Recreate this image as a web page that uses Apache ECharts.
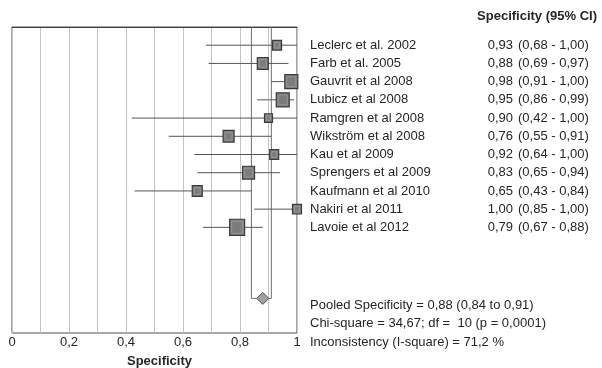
<!DOCTYPE html>
<html>
<head>
<meta charset="utf-8">
<script src="https://cdn.jsdelivr.net/npm/echarts@6/dist/echarts.min.js"></script>
<style>
  html, body { margin: 0; padding: 0; background: #fff; }
  #chart { width: 602px; height: 368px; }
</style>
</head>
<body>
<div id="chart"></div>
<script>
// Forest plot of per-study specificity with 95% confidence intervals
const studies = [
  'Leclerc et al. 2002', 'Farb et al. 2005', 'Gauvrit et al 2008', 'Lubicz et al 2008',
  'Ramgren et al 2008', 'Wikström et al 2008', 'Kau et al 2009', 'Sprengers et al 2009',
  'Kaufmann et al 2010', 'Nakiri et al 2011', 'Lavoie et al 2012'
];
const specificity = [0.93, 0.88, 0.98, 0.95, 0.90, 0.76, 0.92, 0.83, 0.65, 1.00, 0.79];
const ciLower     = [0.68, 0.69, 0.91, 0.86, 0.42, 0.55, 0.64, 0.65, 0.43, 0.85, 0.67];
const ciUpper     = [1.00, 0.97, 1.00, 0.99, 1.00, 0.91, 1.00, 0.94, 0.84, 1.00, 0.88];
// relative study weights (marker area)
const weights     = [9.0, 13.4, 18.8, 18.8, 7.1, 13.4, 9.0, 16.0, 11.1, 9.0, 25.0];

const pooled = { value: 0.88, lower: 0.84, upper: 0.91 };
const summaryLines = [
  'Pooled Specificity = 0,88 (0,84 to 0,91)',
  'Chi-square = 34,67; df =  10 (p = 0,0001)',
  'Inconsistency (I-square) = 71,2 %'
];
const xTicks = [0, 0.2, 0.4, 0.6, 0.8, 1];

const fmt = v => v.toFixed(2).replace('.', ',');
const FONT = '"Liberation Sans", Arial, sans-serif';
const TEXT_COLOR = '#262626';
const ROW_Y0 = 1;           // first study row
const POOLED_ROW = 14.9;    // row of the pooled diamond
const SUMMARY_ROW0 = 15.27; // first summary text row
const SUMMARY_STEP = 1.015;

const rows = studies.map((s, i) => [specificity[i], ROW_Y0 + i, ciLower[i], ciUpper[i], weights[i], i]);

const chart = echarts.init(document.getElementById('chart'), null, { renderer: 'canvas' });

chart.setOption({
  animation: false,
  backgroundColor: '#ffffff',
  grid: {
    left: 12, right: 305, top: 27, bottom: 35,
    show: true, borderColor: '#505050', borderWidth: 1,
    containLabel: false, outerBoundsMode: 'none'
  },
  xAxis: {
    type: 'value', min: 0, max: 1, interval: 0.1,
    axisLine: { show: true, lineStyle: { color: '#404040' } },
    axisTick: { show: false },
    splitLine: { show: true, lineStyle: { color: '#c4c4c4', width: 1 } },
    axisLabel: {
      margin: 3, fontFamily: FONT, fontSize: 13, color: TEXT_COLOR,
      formatter: v => {
        const hit = xTicks.find(t => Math.abs(t - v) < 1e-6);
        if (hit === undefined) return '';
        return (hit === 0 || hit === 1) ? String(hit) : hit.toFixed(1).replace('.', ',');
      }
    },
    name: 'Specificity', nameLocation: 'middle', nameGap: 22,
    nameTextStyle: { fontFamily: FONT, fontSize: 13, fontWeight: 'bold', color: TEXT_COLOR, padding: [0, 0, 0, 10] }
  },
  yAxis: { type: 'value', min: 0, max: 16.8, inverse: true, show: false, splitLine: { show: false } },
  graphic: [{
    type: 'text', right: 5, top: 10,
    style: { text: 'Specificity (95% CI)', font: 'bold 13px ' + FONT, fill: TEXT_COLOR }
  }],
  series: [
    {
      // pooled confidence bracket and diamond
      type: 'custom', name: 'pooled', clip: false, z: 3,
      data: [[pooled.value, POOLED_ROW, pooled.lower, pooled.upper]],
      renderItem: (params, api) => {
        const c = api.coord([api.value(0), api.value(1)]);
        const lo = api.coord([api.value(2), 0]);
        const hi = api.coord([api.value(3), 0]);
        const top = params.coordSys.y;
        const y = c[1];
        const hw = 6, hh = 6;
        return {
          type: 'group',
          children: [
            { type: 'polyline', shape: { points: [[lo[0], top], [lo[0], y], [hi[0], y], [hi[0], top]] },
              style: { stroke: '#707070', lineWidth: 1, fill: null } },
            { type: 'polygon', shape: { points: [[c[0] - hw, y], [c[0], y - hh], [c[0] + hw, y], [c[0], y + hh]] },
              style: { fill: '#a0a0a0', stroke: '#555555', lineWidth: 1 }, z2: 5 }
          ]
        };
      }
    },
    {
      // study confidence intervals and weighted squares
      type: 'custom', name: 'studies', clip: false, z: 4,
      data: rows,
      renderItem: (params, api) => {
        const c = api.coord([api.value(0), api.value(1)]);
        const lo = api.coord([api.value(2), api.value(1)]);
        const hi = api.coord([api.value(3), api.value(1)]);
        const side = 3 * Math.sqrt(api.value(4));
        const h = side * 1.08;
        return {
          type: 'group',
          children: [
            { type: 'line', shape: { x1: lo[0], y1: c[1], x2: hi[0], y2: c[1] },
              style: { stroke: '#555555', lineWidth: 1 } },
            { type: 'rect', shape: { x: c[0] - side / 2, y: c[1] - h / 2, width: side, height: h },
              style: { fill: '#7c7c7c', stroke: '#3c3c3c', lineWidth: 1.2 } },
            { type: 'rect', shape: { x: c[0] - side / 2 + 2, y: c[1] - h / 2 + 2, width: side - 4, height: h - 4 },
              style: { fill: null, stroke: '#969696', lineWidth: 1 } }
          ]
        };
      }
    },
    {
      // study names, estimates and intervals to the right of the plot
      type: 'custom', name: 'studyText', clip: false, z: 5,
      data: rows,
      renderItem: (params, api) => {
        const i = api.value(5);
        const y = api.coord([1, api.value(1)])[1];
        const x1 = params.coordSys.x + params.coordSys.width;
        const base = { font: '13px ' + FONT, fill: TEXT_COLOR, textVerticalAlign: 'middle' };
        return {
          type: 'group',
          children: [
            { type: 'text', x: x1 + 13, y: y, style: Object.assign({ text: studies[i], textAlign: 'left' }, base) },
            { type: 'text', x: x1 + 216, y: y, style: Object.assign({ text: fmt(api.value(0)), textAlign: 'right' }, base) },
            { type: 'text', x: x1 + 221, y: y,
              style: Object.assign({ text: '(' + fmt(api.value(2)) + ' - ' + fmt(api.value(3)) + ')', textAlign: 'left' }, base) }
          ]
        };
      }
    },
    {
      // heterogeneity summary below the study list
      type: 'custom', name: 'summary', clip: false, z: 5,
      data: summaryLines.map((t, i) => [1, SUMMARY_ROW0 + i * SUMMARY_STEP, i]),
      renderItem: (params, api) => {
        const p = api.coord([api.value(0), api.value(1)]);
        return { type: 'text', x: p[0] + 13, y: p[1],
          style: { text: summaryLines[api.value(2)], font: '13px ' + FONT, fill: TEXT_COLOR, textAlign: 'left', textVerticalAlign: 'middle' } };
      }
    }
  ]
});
</script>
</body>
</html>
